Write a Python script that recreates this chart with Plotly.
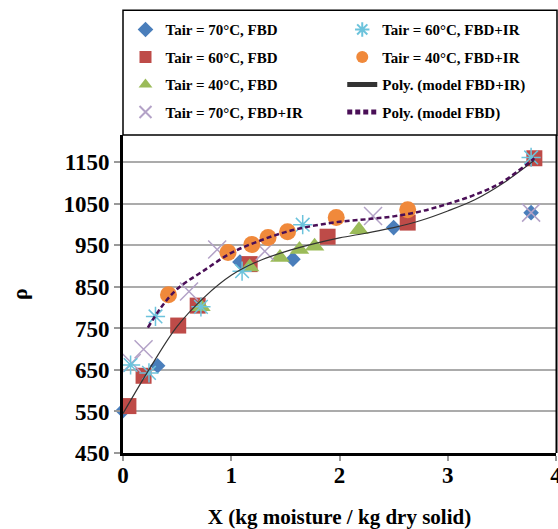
import plotly.graph_objects as go

# ---- data ----
x_70_fbd = [0.0, 0.32, 1.08, 1.57, 2.50, 3.77]
y_70_fbd = [552, 660, 910, 917, 993, 1029]

x_60_fbd = [0.05, 0.19, 0.51, 0.69, 1.17, 1.89, 2.63, 3.80]
y_60_fbd = [563, 636, 757, 805, 905, 971, 1005, 1160]

x_40_fbd = [0.72, 1.17, 1.45, 1.63, 1.77, 2.18]
y_40_fbd = [802, 898, 921, 940, 948, 988]

x_70_ir = [0.08, 0.19, 0.61, 0.87, 1.31, 2.31, 3.77]
y_70_ir = [667, 700, 839, 940, 936, 1021, 1029]

x_60_ir = [0.07, 0.24, 0.30, 0.72, 1.10, 1.66, 3.77]
y_60_ir = [662, 643, 779, 802, 888, 1000, 1162]

x_40_ir = [0.42, 0.97, 1.19, 1.34, 1.52, 1.97, 2.63]
y_40_ir = [831, 933, 952, 969, 983, 1017, 1036]

# trendlines
x_poly_ir = [0, 0.25, 0.5, 0.75, 1.0, 1.25, 1.5, 1.75, 2.0, 2.25, 2.5, 2.75, 3.0, 3.25, 3.5, 3.8]
y_poly_ir = [545, 655, 755, 825, 878, 912, 935, 953, 968, 980, 993, 1010, 1033, 1060, 1098, 1155]

x_poly_fbd = [0.23, 0.35, 0.5, 0.75, 1.0, 1.25, 1.5, 1.75, 2.0, 2.25, 2.5, 2.75, 3.0, 3.25, 3.5, 3.8]
y_poly_fbd = [752, 800, 845, 890, 932, 960, 982, 997, 1007, 1013, 1020, 1032, 1050, 1072, 1102, 1160]

y_ticks = [450, 550, 650, 750, 850, 950, 1050, 1150]
x_ticks = [0, 1, 2, 3, 4]

FONT = "Liberation Serif"

fig = go.Figure()

def add_markers(x, y, name, symbol, color, size, rank, legend, lw=0):
    fig.add_trace(go.Scatter(
        x=x, y=y, mode="markers", name=name, legend=legend,
        legendrank=rank, legendgroup=name, cliponaxis=False,
        marker=dict(symbol=symbol, color=color, size=size,
                    line=dict(color=color, width=lw)),
    ))

add_markers(x_70_fbd, y_70_fbd, "Tair = 70°C, FBD", "diamond", "#4A7EBB", 12, 1, "legend")
add_markers(x_60_fbd, y_60_fbd, "Tair = 60°C, FBD", "square", "#BE4B48", 16, 2, "legend")
add_markers(x_40_fbd, y_40_fbd, "Tair = 40°C, FBD", "triangle-up", "#9BBB59", 17, 3, "legend")
add_markers(x_70_ir, y_70_ir, "Tair = 70°C, FBD+IR", "x-thin-open", "#B3A2C7", 18, 4, "legend", 1.5)
add_markers(x_60_ir, y_60_ir, "Tair = 60°C, FBD+IR", "asterisk-open", "#6CC3DC", 16, 5, "legend2", 1.5)
add_markers(x_40_ir, y_40_ir, "Tair = 40°C, FBD+IR", "circle", "#F0893B", 17, 6, "legend2")

fig.add_trace(go.Scatter(
    x=x_poly_ir, y=y_poly_ir, mode="lines", name="Poly. (model FBD+IR)",
    legend="legend2", legendrank=7, legendgroup="pir", cliponaxis=False,
    line=dict(color="#333333", width=1.2, shape="spline"),
))
fig.add_trace(go.Scatter(
    x=x_poly_fbd, y=y_poly_fbd, mode="lines", name="Poly. (model FBD)",
    legend="legend2", legendrank=8, legendgroup="pfbd", cliponaxis=False,
    line=dict(color="#4A0F57", width=2.5, dash="5px,3px", shape="spline"),
))

L, R, T, B = 122.5, 2, 135, 75.5
W, H = 558, 529
pw, ph = W - L - R, H - T - B

def px_x(p):
    return (p - L) / pw

def px_y(p):
    return (H - B - p) / ph

legend_common = dict(
    orientation="v", yanchor="top", xanchor="left",
    font=dict(family=FONT, size=15, color="black", weight="bold"),
    bgcolor="rgba(0,0,0,0)", borderwidth=0,
    tracegroupgap=5, itemsizing="constant",
)

fig.update_layout(
    width=W, height=H,
    margin=dict(l=L, r=R, t=T, b=B, autoexpand=False),
    paper_bgcolor="white", plot_bgcolor="white",
    font=dict(family=FONT, color="black"),
    showlegend=True,
    legend=dict(x=px_x(125), y=px_y(13), **legend_common),
    legend2=dict(x=px_x(342), y=px_y(13), **legend_common),
    xaxis=dict(
        range=[0, 4], tickvals=x_ticks, ticktext=[str(v) for v in x_ticks],
        showgrid=False, zeroline=False,
        showline=True, linecolor="black", linewidth=3,
        ticks="outside", ticklen=5, tickcolor="#999999", tickwidth=1.5,
        ticklabeloverflow="allow", ticklabelstandoff=-6,
        tickfont=dict(family=FONT, size=23, color="black", weight="bold"),
        title=dict(text="<b>X (kg moisture / kg dry solid)</b>",
                   font=dict(family=FONT, size=21, color="black"), standoff=30),
    ),
    yaxis=dict(
        range=[450, 1216], tickvals=y_ticks, ticktext=[str(v) for v in y_ticks],
        showgrid=True, gridcolor="#ABABAB", gridwidth=2, zeroline=False,
        showline=True, linecolor="black", linewidth=3,
        ticks="outside", ticklen=6, tickcolor="#999999", tickwidth=1.5,
        tickfont=dict(family=FONT, size=23, color="black", weight="bold"),
        title=dict(text="<b>ρ</b>", font=dict(family=FONT, size=22, color="black"),
                   standoff=30),
    ),
    shapes=[
        # legend box
        dict(type="rect", xref="paper", yref="paper",
             x0=px_x(122.5), x1=px_x(557), y0=1.0, y1=px_y(10),
             line=dict(color="black", width=1.5), fillcolor="rgba(0,0,0,0)", layer="above"),
        # right border of plot area
        dict(type="line", xref="paper", yref="paper",
             x0=px_x(556.5), x1=px_x(556.5), y0=0, y1=1,
             line=dict(color="black", width=2), layer="above"),
    ],
)

fig.write_html("out.html")
